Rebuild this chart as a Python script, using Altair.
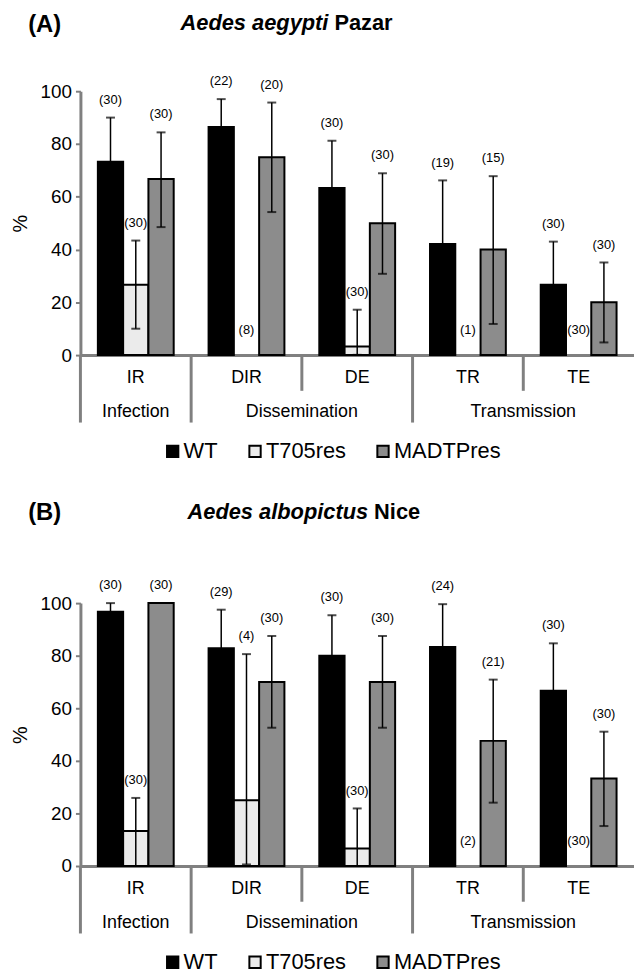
import altair as alt
import pandas as pd

# ---------------- data ----------------
categories = ["IR", "DIR", "DE", "TR", "TE"]
series = ["WT", "T705res", "MADTPres"]
series_colors = ["#000000", "#EBEBEB", "#8C8C8C"]
groups = ["Infection", "Dissemination", "Transmission"]
group_members = [["IR"], ["DIR", "DE"], ["TR", "TE"]]
y_ticks = [0, 20, 40, 60, 80, 100]

# Panel A : Aedes aegypti Pazar
a_wt = [73.3, 86.4, 63.3, 42.1, 26.7]
a_wt_lo = [56.6, 75.8, 45.4, 18.0, 10.4]
a_wt_hi = [90.0, 97.0, 81.2, 66.2, 43.0]
a_wt_n = [30, 22, 30, 19, 30]
a_t7 = [26.7, 0.0, 3.3, 0.0, 0.0]
a_t7_lo = [10.0, None, 0.1, None, None]
a_t7_hi = [43.4, None, 17.2, None, None]
a_t7_n = [30, 8, 30, 1, 30]
a_ma = [66.7, 75.0, 50.0, 40.0, 20.0]
a_ma_lo = [48.5, 54.2, 30.8, 11.8, 4.8]
a_ma_hi = [84.4, 95.7, 68.9, 67.8, 35.1]
a_ma_n = [30, 20, 30, 15, 30]

# Panel B : Aedes albopictus Nice
b_wt = [96.7, 82.8, 80.0, 83.3, 66.7]
b_wt_lo = [93.4, 68.1, 64.6, 67.0, 48.7]
b_wt_hi = [100.0, 97.5, 95.4, 99.6, 84.7]
b_wt_n = [30, 29, 30, 24, 30]
b_t7 = [13.3, 25.0, 6.7, 0.0, 0.0]
b_t7_lo = [0.0, 0.6, 0.0, None, None]
b_t7_hi = [25.9, 80.6, 21.9, None, None]
b_t7_n = [30, 4, 30, 2, 30]
b_ma = [100.0, 70.0, 70.0, 47.6, 33.3]
b_ma_lo = [None, 52.6, 52.6, 24.1, 15.2]
b_ma_hi = [None, 87.5, 87.5, 70.9, 51.1]
b_ma_n = [30, 30, 30, 21, 30]

# ---------------- styling ----------------
W = 558
FONT = "Liberation Sans"
GREY = "#808080"

xsc = alt.Scale(type="band", domain=categories, paddingInner=0, paddingOuter=0)
osc = alt.Scale(type="band", domain=series, paddingInner=0, paddingOuter=0.69)
ysc = alt.Scale(domain=[0, 100], nice=False)
xaxis = alt.Axis(labels=False, ticks=False, title=None, grid=False,
                 domainColor=GREY, domainWidth=3)
yaxis = alt.Axis(values=y_ticks, grid=False, domainColor=GREY, domainWidth=3,
                 tickColor=GREY, tickWidth=2, tickSize=5, labelFontSize=19,
                 labelFont=FONT, labelColor="black", labelPadding=4, title="%",
                 titleFontSize=20, titleFont=FONT, titleFontWeight="normal",
                 titleColor="black", titlePadding=10)


def frame(vals, los, his, ns):
    rows = []
    for s, v, lo, hi, n in zip(series, vals, los, his, ns):
        for c, vv, l, h, nn in zip(categories, v, lo, hi, n):
            rows.append(dict(cat=c, ser=s, val=vv, lo=l, hi=h,
                             lab="(%d)" % nn,
                             base=h if h is not None else vv,
                             zero=(vv == 0 and h is None)))
    return pd.DataFrame(rows)


def X(**kw):
    return alt.X("cat:N", scale=xsc, axis=xaxis, **kw)


XO = alt.XOffset("ser:N", scale=osc)


def Y(field):
    return alt.Y(field, scale=ysc, axis=yaxis)


def panel(df, H, tag, italic, plain, tag_y, title_y, title_x):
    legend = alt.Legend(title=None, orient="none", direction="horizontal",
                        legendX=82, legendY=H + 86, symbolType="square",
                        symbolSize=130, symbolStrokeColor="black",
                        symbolStrokeWidth=2, symbolOpacity=1,
                        labelFontSize=22, labelFont=FONT, labelColor="black",
                        labelOffset=0, columnPadding=26, padding=0)
    bars = alt.Chart(df[df.val > 0]).mark_bar(stroke="black", strokeWidth=2).encode(
        x=X(), xOffset=XO, y=Y("val:Q"),
        fill=alt.Fill("ser:N", scale=alt.Scale(domain=series, range=series_colors),
                      legend=legend),
    )
    dfe = df[df.hi.notna()]
    err = alt.Chart(dfe).mark_rule(color="black", strokeWidth=1.5).encode(
        x=X(), xOffset=XO, y=Y("lo:Q"), y2="hi:Q")
    cap_hi = alt.Chart(dfe).mark_tick(color="black", thickness=2, size=9).encode(
        x=X(), xOffset=XO, y=Y("hi:Q"))
    cap_lo = alt.Chart(dfe).mark_tick(color="black", thickness=2, size=9).encode(
        x=X(), xOffset=XO, y=Y("lo:Q"))
    lab = alt.Chart(df[~df.zero]).mark_text(fontSize=13, font=FONT, dy=-18,
                                             baseline="middle", color="black").encode(
        x=X(), xOffset=XO, y=Y("base:Q"), text="lab:N")
    lab0 = alt.Chart(df[df.zero]).mark_text(fontSize=13, font=FONT, dy=-25,
                                             baseline="middle", color="black").encode(
        x=X(), xOffset=XO, y=Y("base:Q"), text="lab:N")

    long_sep = pd.DataFrame({"cat": [m[0] for m in group_members]})
    short_sep = pd.DataFrame({"cat": [c for m in group_members for c in m[1:]]})
    sep1 = alt.Chart(long_sep).mark_rule(color=GREY, strokeWidth=3).encode(
        x=X(bandPosition=0), y=alt.value(H), y2=alt.value(H + 68))
    sep2 = alt.Chart(short_sep).mark_rule(color=GREY, strokeWidth=3).encode(
        x=X(bandPosition=0), y=alt.value(H), y2=alt.value(H + 36))

    catlab = alt.Chart(pd.DataFrame({"cat": categories})).mark_text(
        fontSize=18, font=FONT, baseline="middle", color="black").encode(
        x=X(), y=alt.value(H + 23), text="cat:N")
    odd = pd.DataFrame({"cat": [m[len(m) // 2] for m in group_members if len(m) % 2 == 1],
                        "g": [g for g, m in zip(groups, group_members) if len(m) % 2 == 1]})
    even = pd.DataFrame({"cat": [m[len(m) // 2] for m in group_members if len(m) % 2 == 0],
                         "g": [g for g, m in zip(groups, group_members) if len(m) % 2 == 0]})
    glab1 = alt.Chart(odd).mark_text(fontSize=18, font=FONT, baseline="middle",
                                     color="black").encode(
        x=X(), y=alt.value(H + 57), text="g:N")
    glab2 = alt.Chart(even).mark_text(fontSize=18, font=FONT, baseline="middle",
                                      color="black").encode(
        x=X(bandPosition=0), y=alt.value(H + 57), text="g:N")

    one = pd.DataFrame({"a": [tag], "b": [italic], "c": [plain]})
    t_tag = alt.Chart(one).mark_text(fontSize=24, font=FONT, fontWeight="bold",
                                     align="center", baseline="alphabetic",
                                     color="black").encode(
        x=alt.value(-36), y=alt.value(tag_y), text="a:N")
    t_it = alt.Chart(one).mark_text(fontSize=22, font=FONT, fontWeight="bold",
                                    fontStyle="italic", align="right",
                                    baseline="alphabetic", color="black").encode(
        x=alt.value(title_x), y=alt.value(title_y), text="b:N")
    t_pl = alt.Chart(one).mark_text(fontSize=22, font=FONT, fontWeight="bold",
                                    align="left", baseline="alphabetic",
                                    color="black").encode(
        x=alt.value(title_x + 6), y=alt.value(title_y), text="c:N")

    return alt.layer(bars, err, cap_hi, cap_lo, lab, lab0, sep1, sep2, catlab,
                     glab1, glab2, t_tag, t_it, t_pl).properties(width=W, height=H)


dfa = frame([a_wt, a_t7, a_ma], [a_wt_lo, a_t7_lo, a_ma_lo],
            [a_wt_hi, a_t7_hi, a_ma_hi], [a_wt_n, a_t7_n, a_ma_n])
dfb = frame([b_wt, b_t7, b_ma], [b_wt_lo, b_t7_lo, b_ma_lo],
            [b_wt_hi, b_t7_hi, b_ma_hi], [b_wt_n, b_t7_n, b_ma_n])

pa = panel(dfa, 266, "(A)", "Aedes aegypti", "Pazar", -60, -62, 250)
pb = panel(dfb, 265, "(B)", "Aedes albopictus", "Nice", -84, -85, 290)

chart = alt.vconcat(pa, pb, spacing=39).resolve_legend(fill="independent").configure_view(
    stroke=None).properties(padding={"left": 2, "top": 0, "right": 0, "bottom": 0})

chart.save("out.html", embed_options={"renderer": "svg", "actions": False})
